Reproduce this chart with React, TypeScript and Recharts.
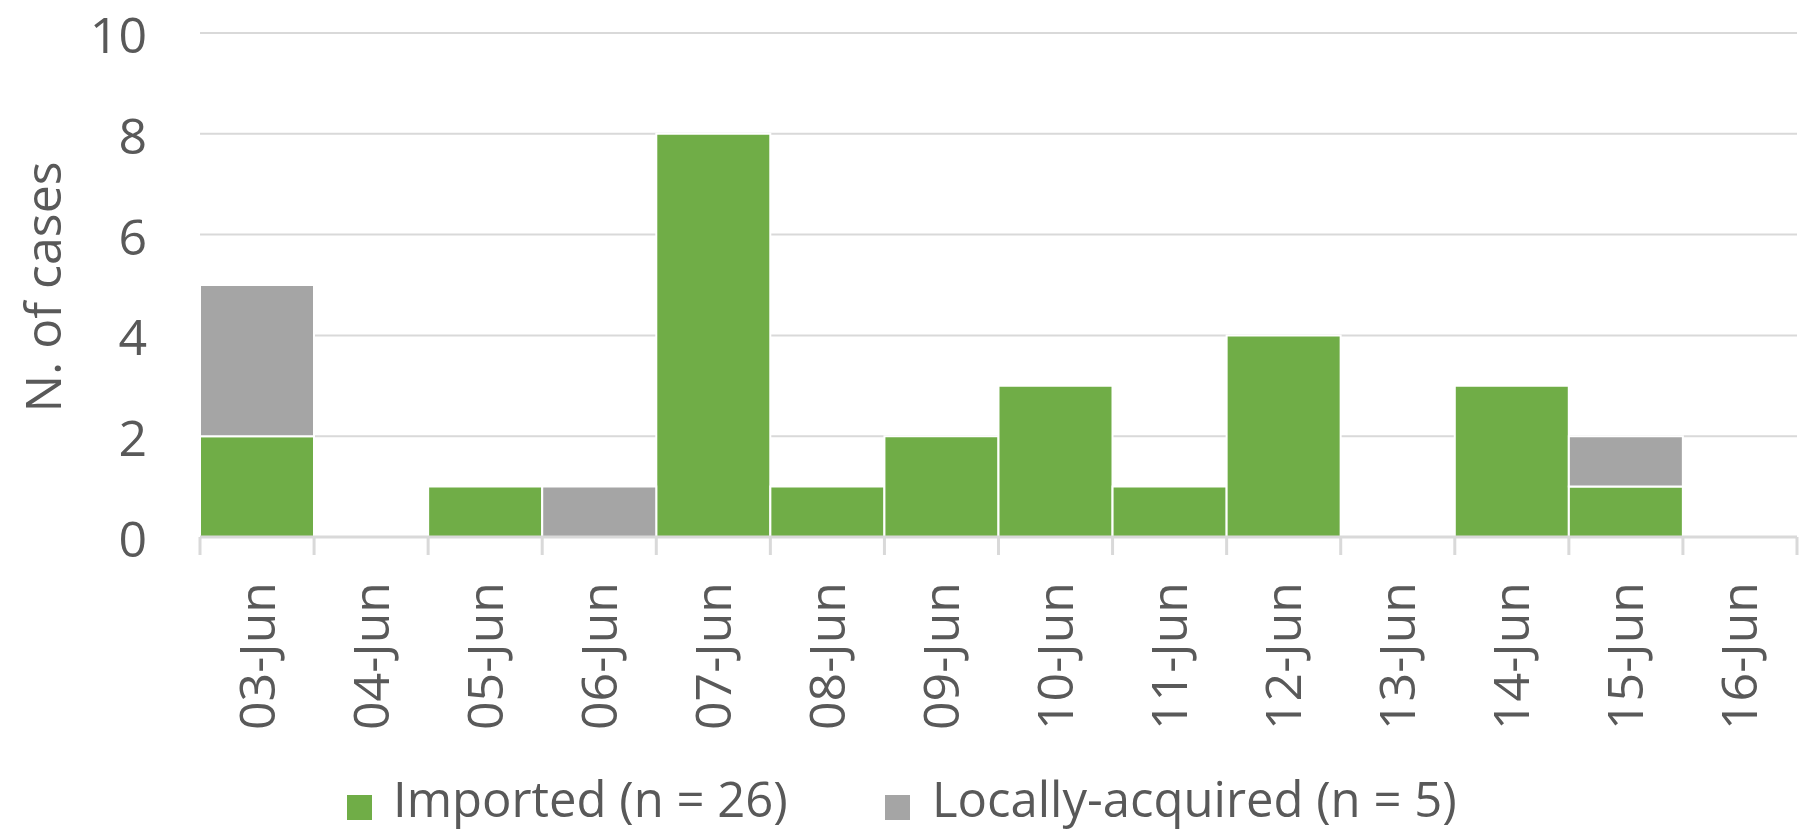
import { BarChart, Bar, XAxis, YAxis, CartesianGrid, Legend } from "recharts";

const days = [
  "03-Jun", "04-Jun", "05-Jun", "06-Jun", "07-Jun", "08-Jun", "09-Jun",
  "10-Jun", "11-Jun", "12-Jun", "13-Jun", "14-Jun", "15-Jun", "16-Jun",
];
const imported = [2, 0, 1, 0, 8, 1, 2, 3, 1, 4, 0, 3, 1, 0];
const local = [3, 0, 0, 1, 0, 0, 0, 0, 0, 0, 0, 0, 1, 0];
const yTicks = [0, 2, 4, 6, 8, 10];

const seriesNames = ["Imported (n = 26)", "Locally-acquired (n = 5)"];
const GREEN = "#70AD47";
const GREY = "#A5A5A5";
const TEXT = "#595959";
const GRID = "#D9D9D9";
const FONT = "'Open Sans', 'Noto Sans', sans-serif";

const data = days.map((d, i) => ({ day: d, imported: imported[i], local: local[i] }));

const W = 1803;
const H = 832;
const plotLeft = 200;
const plotRight = W - 6;
const band = (plotRight - plotLeft) / days.length;

function DayTick(props: any) {
  const { x, y, payload, index } = props;
  const left = x - band / 2;
  const last = index === days.length - 1;
  return (
    <g>
      <line x1={left} y1={y} x2={left} y2={y + 18} stroke={GRID} strokeWidth={3} />
      {last && (
        <line x1={x + band / 2} y1={y} x2={x + band / 2} y2={y + 18} stroke={GRID} strokeWidth={3} />
      )}
      <text
        x={x}
        y={y + 45}
        dy="0.35em"
        transform={`rotate(-90 ${x} ${y + 45})`}
        textAnchor="end"
        fill={TEXT}
        fontSize={50}
        fontFamily={FONT}
      >
        {payload.value}
      </text>
    </g>
  );
}

function CountTick(props: any) {
  const { x, y, payload } = props;
  return (
    <text x={x} y={y} dy="0.4em" textAnchor="end" fill={TEXT} fontSize={50} fontFamily={FONT}>
      {payload.value}
    </text>
  );
}

function CaseLegend() {
  const item = (color: string, label: string, sq: number, tx: number) => (
    <>
      <span
        style={{ position: "absolute", left: sq, top: 43, width: 25, height: 25, background: color }}
      />
      <span
        style={{
          position: "absolute",
          left: tx,
          top: 22,
          fontSize: 49,
          lineHeight: 1,
          fontFamily: FONT,
          color: TEXT,
          whiteSpace: "nowrap",
        }}
      >
        {label}
      </span>
    </>
  );
  return (
    <div style={{ position: "relative", width: W, height: 80 }}>
      {item(GREEN, seriesNames[0], 347, 393)}
      {item(GREY, seriesNames[1], 885, 932)}
    </div>
  );
}

export default function App() {
  return (
    <div style={{ position: "absolute", left: 0, top: 0, background: "#fff" }}>
      <BarChart
        width={W}
        height={H}
        data={data}
        margin={{ top: 33, right: 6, left: 0, bottom: 0 }}
        barCategoryGap={0}
      >
        <CartesianGrid vertical={false} stroke={GRID} strokeWidth={2} />
        <XAxis
          dataKey="day"
          height={215}
          interval={0}
          tickLine={false}
          tickSize={0}
          tickMargin={0}
          axisLine={{ stroke: GRID, strokeWidth: 3 }}
          tick={<DayTick />}
        />
        <YAxis
          width={200}
          domain={[0, 10]}
          ticks={yTicks}
          interval={0}
          tickLine={false}
          axisLine={false}
          tickSize={0}
          tickMargin={53}
          tick={<CountTick />}
          label={{
            value: "N. of cases",
            content: () => (
              <text
                x={43}
                y={287}
                dy="0.35em"
                transform="rotate(-90 43 287)"
                textAnchor="middle"
                fill={TEXT}
                fontSize={50}
                fontFamily={FONT}
              >
                N. of cases
              </text>
            ),
          }}
        />
        <Legend verticalAlign="bottom" height={80} content={() => <CaseLegend />} />
        <Bar
          dataKey="imported"
          name={seriesNames[0]}
          stackId="a"
          fill={GREEN}
          stroke="#fff"
          strokeWidth={2}
          isAnimationActive={false}
        />
        <Bar
          dataKey="local"
          name={seriesNames[1]}
          stackId="a"
          fill={GREY}
          stroke="#fff"
          strokeWidth={2}
          isAnimationActive={false}
        />
      </BarChart>
    </div>
  );
}
